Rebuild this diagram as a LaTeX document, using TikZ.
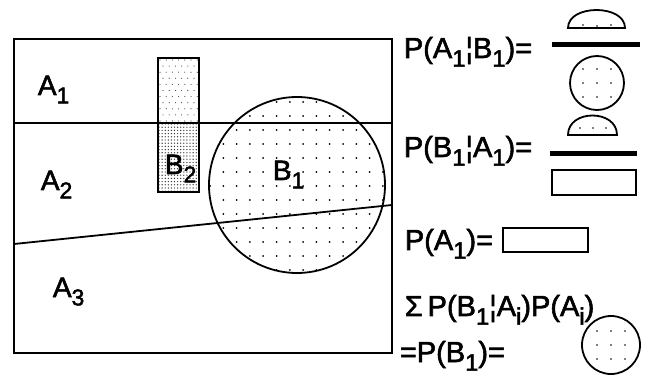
\documentclass[tikz,border=0pt]{standalone}
\usepackage{fontspec}
\setmainfont{Liberation Sans}[FakeBold=2]
\usepackage{graphicx}
\newcommand\sbs[1]{\raisebox{-0.3em}{\scalebox{0.82}{#1}}}
\begin{document}
\begin{tikzpicture}[x=1pt,y=-1pt,line width=1.8pt,
  lbl/.style={inner sep=0pt,anchor=base west,font=\fontsize{28}{32}\selectfont},
  eq/.style={inner sep=0pt,anchor=base west,font=\fontsize{29}{33}\selectfont},
  bar/.style={line width=5pt}]
\useasboundingbox (0,0) rectangle (646,377);
% B1 dotted circle
\begin{scope}
  \clip (297,185) circle[radius=88pt];
  \foreach \i in {0,...,14} \foreach \j in {0,...,14}
    \fill ({210+\i*13.3},{88+\j*14}) circle[radius=1pt];
\end{scope}
% B2 stipple
\begin{scope}
  \clip (158,58) rectangle (199,192);
  \foreach \i in {0,...,13} \foreach \j in {0,...,21}
    \fill[black!80] ({159+\i*3.1},{124+\j*3.2}) circle[radius=0.7pt];
  \foreach \i in {0,...,6} \foreach \j in {0,...,10}
    \fill[black!70] ({160+\i*6.2+mod(\j,2)*3},{60+\j*6.1}) circle[radius=0.6pt];
\end{scope}
\draw (158,58) rectangle (199,192);
\draw (297,185) circle[radius=88pt];
% universe
\draw (14,39) rectangle (392,353);
\draw (14,123) -- (392,123);
\draw (14,244) -- (392,205);
% labels
\node[lbl] (a1) at (37,95) {A\sbs{1}};
\node[lbl] (a2) at (40,190) {A\sbs{2}};
\node[lbl] (a3) at (52,297) {A\sbs{3}};
\node[lbl] (b2) at (164,174) {B\sbs{2}};
\node[lbl] (b1) at (272,180) {B\sbs{1}};
% right column
\node[eq] (e1) at (403,58) {P(A\sbs{1}¦B\sbs{1})=};
\draw (568,28) .. controls (568,4) and (625,4) .. (625,28) -- cycle;
\fill (583,25) circle[radius=0.9pt] (597,26) circle[radius=0.9pt] (611,25) circle[radius=0.9pt];
\draw[bar] (552,45) -- (640,45);
\draw (597,83) circle[radius=27pt];
\foreach \i in {-1,0,1} \foreach \j in {-1,0,1}
  \fill ({597+\i*14},{83+\j*14}) circle[radius=0.9pt];
\node[eq] (e2) at (403,157) {P(B\sbs{1}¦A\sbs{1})=};
\draw (568,135) .. controls (568,109) and (617,109) .. (617,135) -- cycle;
\fill (580,128) circle[radius=0.9pt] (593,128) circle[radius=0.9pt] (606,128) circle[radius=0.9pt];
\draw[bar] (550,154) -- (637,154);
\draw (552,170) rectangle (636,195);
\node[eq] (e3) at (404,250) {P(A\sbs{1})=};
\draw (503,228) rectangle (588,252);
\node[eq] (e4) at (404,316) {Σ\,P(B\sbs{1}¦A\sbs{i})P(A\sbs{i})};
\node[eq] (e5) at (399,362) {=P(B\sbs{1})=};
\draw (611,345) circle[radius=29pt];
\foreach \i in {-1,0,1} \foreach \j in {-1,0,1}
  \fill ({611+\i*14},{345+\j*14}) circle[radius=0.9pt];
\end{tikzpicture}
\end{document}
